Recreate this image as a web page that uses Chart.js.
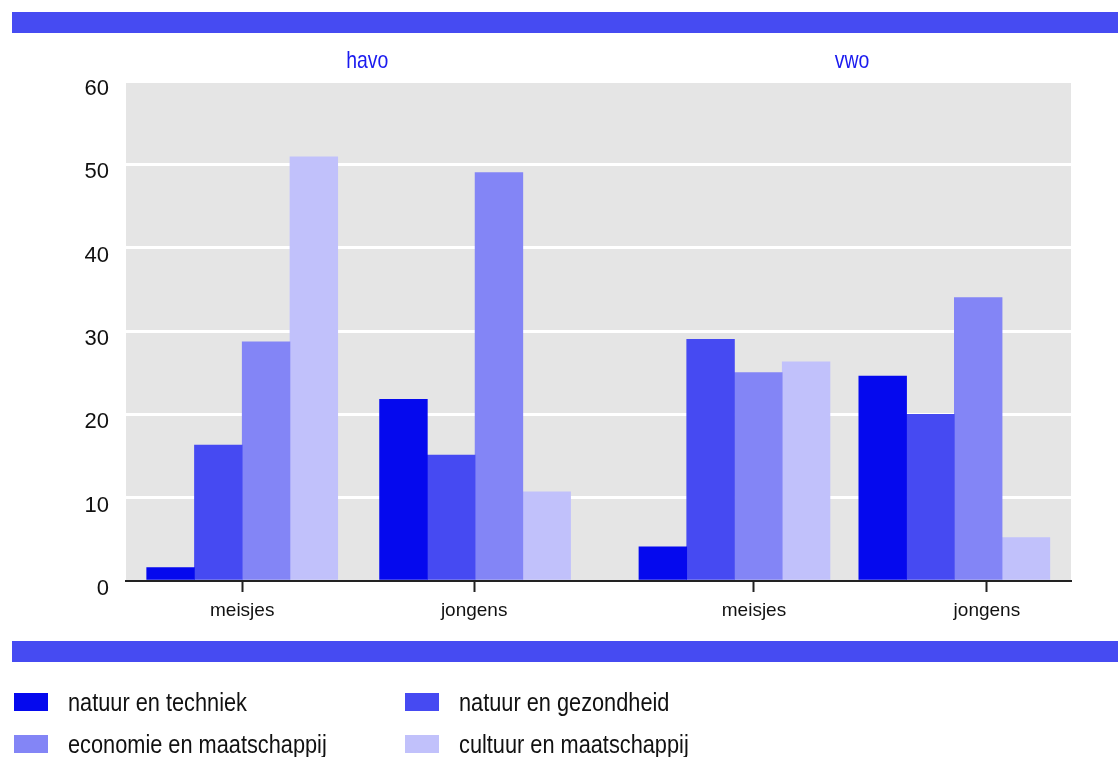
<!DOCTYPE html>
<html>
<head>
<meta charset="utf-8">
<script src="https://cdn.jsdelivr.net/npm/chart.js@4"></script>
<style>
  html, body { margin: 0; padding: 0; background: #fff; }
  #chart { display: block; }
</style>
</head>
<body>
<canvas id="chart" width="1118" height="757"></canvas>
<script>
// data
const categories = ["meisjes", "jongens", "meisjes", "jongens"];
const sections = ["havo", "vwo"];
const seriesNames = ["natuur en techniek", "natuur en gezondheid", "economie en maatschappij", "cultuur en maatschappij"];
const natuurTechniek = [1.6, 21.8, 4.1, 24.6];
const natuurGezondheid = [16.3, 15.1, 29.0, 20.0];
const economieMaatschappij = [28.7, 49.0, 25.0, 34.0];
const cultuurMaatschappij = [50.9, 10.7, 26.3, 5.2];
const yTicks = [0, 10, 20, 30, 40, 50, 60];

// where groups / labels sit on the x scale
const groupX = [0, 5.01, 10.59, 15.32];
const tickX = [0, 4.99, 11.01, 16.02];
const sectionX = [2.69, 13.12];

const colors = ["#0509ee", "#464af2", "#8385f6", "#c1c1fb"];
const FONT = "'Liberation Sans', Arial, sans-serif";

const allSeries = [natuurTechniek, natuurGezondheid, economieMaatschappij, cultuurMaatschappij];

const datasets = allSeries.map(function(vals, s){
    return {
        label: seriesNames[s],
        data: groupX.map(function(x, i){ return {x: x, y: vals[i]} }),
        backgroundColor: colors[s],
        borderWidth: 0,
        barThickness: 47.75
    }
})

// text squeezed a bit, the original uses a narrow face
function narrowText(ctx, txt, x, y, sx){
    ctx.save()
    ctx.translate(x, y)
    ctx.scale(sx, 1)
    ctx.fillText(txt, 0, 0)
    ctx.restore()
}

const decor = {
    id: "decor",
    beforeDraw: function(chart){
        const ctx = chart.ctx
        const a = chart.chartArea
        ctx.save()
        ctx.fillStyle = "#464bf2"
        ctx.fillRect(12, 12, 1106, 21)
        ctx.fillRect(12, 641, 1106, 21)
        ctx.fillStyle = "#e5e5e5"
        ctx.fillRect(a.left, a.top, a.right - a.left, a.bottom - a.top)
        ctx.restore()
    },
    afterDraw: function(chart){
        const ctx = chart.ctx
        const xs = chart.scales.x
        ctx.save()
        // section titles
        ctx.font = "24px " + FONT
        ctx.fillStyle = "#1a1aef"
        ctx.textAlign = "center"
        ctx.textBaseline = "alphabetic"
        sections.forEach(function(t, i){
            narrowText(ctx, t, xs.getPixelForValue(sectionX[i]), 68, 0.81)
        })
        // legend, two columns
        const colX = [14, 405]
        const rowY = [711, 753]
        ctx.font = "25px " + FONT
        ctx.textAlign = "left"
        seriesNames.forEach(function(name, i){
            const cx = colX[i % 2]
            const by = rowY[Math.floor(i / 2)]
            ctx.fillStyle = colors[i]
            ctx.fillRect(cx, by - 18, 34, 18)
            ctx.fillStyle = "#111"
            narrowText(ctx, name, cx + 54, by, 0.87)
        })
        ctx.restore()
    }
}

new Chart(document.getElementById("chart"), {
    type: "bar",
    data: { datasets: datasets },
    options: {
        responsive: false,
        devicePixelRatio: 1,
        animation: false,
        layout: { padding: { left: 0, top: 81, right: 47, bottom: 116 } },
        plugins: {
            legend: { display: false },
            tooltip: { enabled: false }
        },
        scales: {
            x: {
                type: "linear",
                offset: false,
                min: -2.5,
                max: 17.83,
                afterBuildTicks: function(s){
                    s.ticks = tickX.map(function(v){ return {value: v} })
                },
                afterFit: function(s){ s.height = 60 },
                grid: {
                    offset: false,
                    drawOnChartArea: false,
                    drawTicks: true,
                    tickLength: 11,
                    tickWidth: 2,
                    tickColor: "#222",
                    color: "#222"
                },
                border: { display: true, color: "#222", width: 2 },
                ticks: {
                    autoSkip: false,
                    maxRotation: 0,
                    padding: 7,
                    color: "#111",
                    font: { family: FONT, size: 19 },
                    callback: function(v, i){ return categories[i] }
                }
            },
            y: {
                min: 0,
                max: 60,
                afterBuildTicks: function(s){
                    s.ticks = yTicks.map(function(v){ return {value: v} })
                },
                afterFit: function(s){ s.width = 126 },
                grid: {
                    drawTicks: false,
                    lineWidth: 3,
                    color: function(c){ return c.tick && c.tick.value === 0 ? "rgba(0,0,0,0)" : "#ffffff" }
                },
                border: { display: false },
                ticks: {
                    padding: 17,
                    labelOffset: 8,
                    color: "#111",
                    font: { family: FONT, size: 22 }
                }
            }
        }
    },
    plugins: [decor]
})
</script>
</body>
</html>
